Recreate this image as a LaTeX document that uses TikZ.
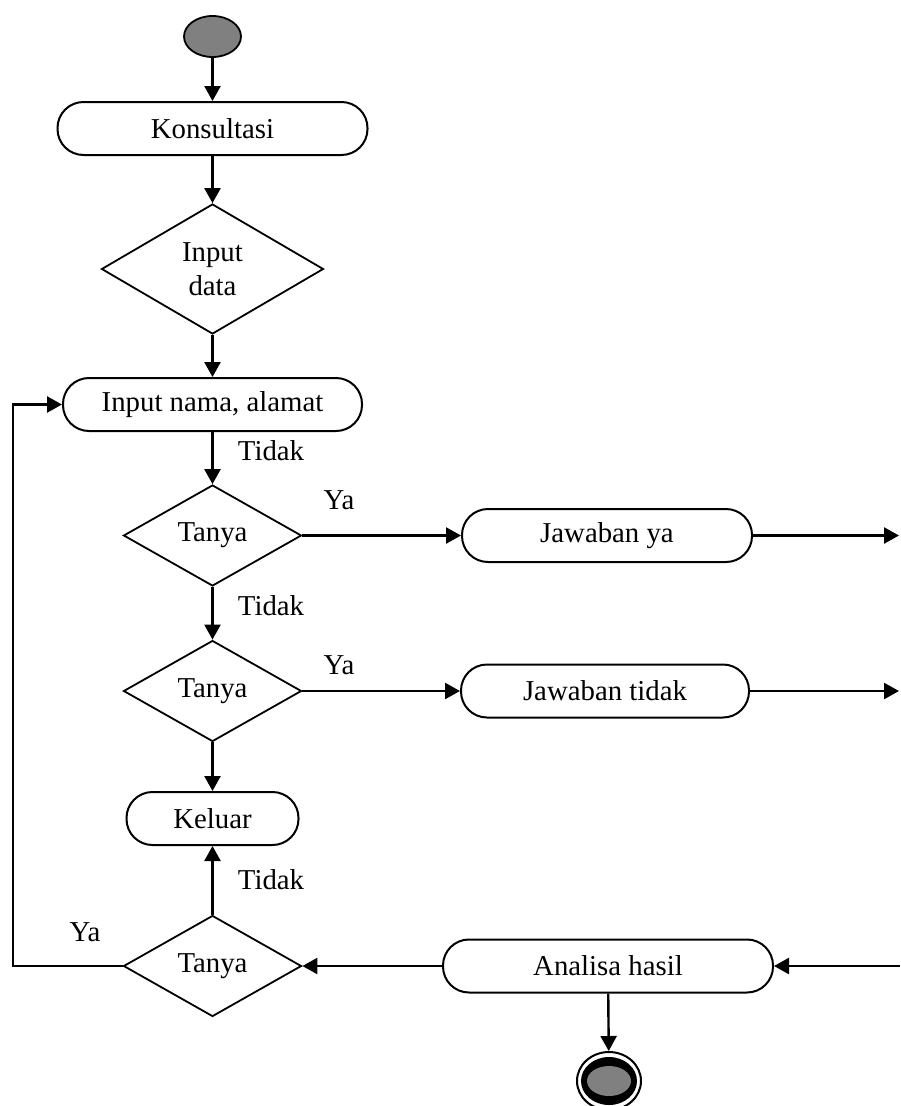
\documentclass[tikz,border=0pt]{standalone}
\usepackage{fontspec}
\setmainfont{Liberation Serif}
\usetikzlibrary{shapes.geometric,arrows.meta}
\begin{document}
\begin{tikzpicture}[x=1pt,y=-1pt,
  every node/.style={font=\fontsize{28.8}{34}\selectfont},
  act/.style={draw, rectangle, rounded corners=26pt, minimum height=53pt, inner sep=0pt, line width=2pt},
  dec/.style={draw, diamond, inner sep=0pt, line width=1.8pt, minimum width=178pt, minimum height=101pt},
  flow/.style={-{Triangle[length=15pt,width=16pt]}, line width=2.4pt},
  lbl/.style={inner sep=0pt},
]
\useasboundingbox (0,0) rectangle (900,1106);

% start node
\node[draw, fill=gray, ellipse, line width=1.8pt, minimum width=57pt, minimum height=41pt, inner sep=0pt] (start) at (212.5,36.5) {};

% activities and decisions
\node[act, minimum width=310pt] (kons) at (212.5,128.5) {Konsultasi};
\node[dec, minimum width=222pt, minimum height=130pt, align=center] (inp) at (212.5,269) {Input\\data};
\node[act, minimum width=299pt] (nama) at (212.5,404.5) {Input nama, alamat};
\node[dec] (t1) at (212.5,535.5) {Tanya};
\node[act, minimum width=290pt] (jy) at (607,535.5) {Jawaban ya};
\node[dec] (t2) at (212.5,691) {Tanya};
\node[act, minimum width=288pt] (jt) at (605,691) {Jawaban tidak};
\node[act, minimum width=172pt] (kel) at (212.5,818.5) {Keluar};
\node[dec] (t3) at (212.5,966) {Tanya};
\node[act, minimum width=330pt] (ana) at (608,966) {Analisa hasil};

% final node
\node[draw, ellipse, line width=2pt, minimum width=64pt, minimum height=58pt, inner sep=0pt] (endo) at (609,1081) {};
\node[fill=black, ellipse, minimum width=56pt, minimum height=48pt, inner sep=0pt] (endm) at (609,1081) {};
\node[fill=gray, ellipse, minimum width=44pt, minimum height=30pt, inner sep=0pt] (endi) at (609,1081) {};

% free ends at the right border and the loop corner
\coordinate (ryes) at (899,535.5);
\coordinate (rno) at (899,691);
\coordinate (rin) at (900,966);
\coordinate (loop) at (13,966);

% connectors
\draw[flow] (start) -- (kons);
\draw[flow] (kons) -- (inp);
\draw[flow] (inp) -- (nama);
\draw[flow] (nama) -- (t1);
\draw[flow] (t1) -- (t2);
\draw[flow] (t2) -- (kel);
\draw[flow] (t3) -- (kel);
\draw[flow] (t1.east) -- (jy.west);
\draw[flow] (t2.east) -- (jt.west);
\draw[flow] (jy.east) -- (ryes);
\draw[flow] (jt.east) -- (rno);
\draw[flow] (rin) -- (ana.east);
\draw[flow] (ana.west) -- (t3.east);
\draw[flow] (ana) -- (endo);
\draw[flow] (t3.west) -- (loop) |- (nama.west);

% branch labels
\node[lbl] (l1) at (271,451) {Tidak};
\node[lbl] (l2) at (271,606) {Tidak};
\node[lbl] (l3) at (271,880) {Tidak};
\node[lbl] (y1) at (339,500) {Ya};
\node[lbl] (y2) at (339,665) {Ya};
\node[lbl] (y3) at (85,932) {Ya};
\end{tikzpicture}
\end{document}
